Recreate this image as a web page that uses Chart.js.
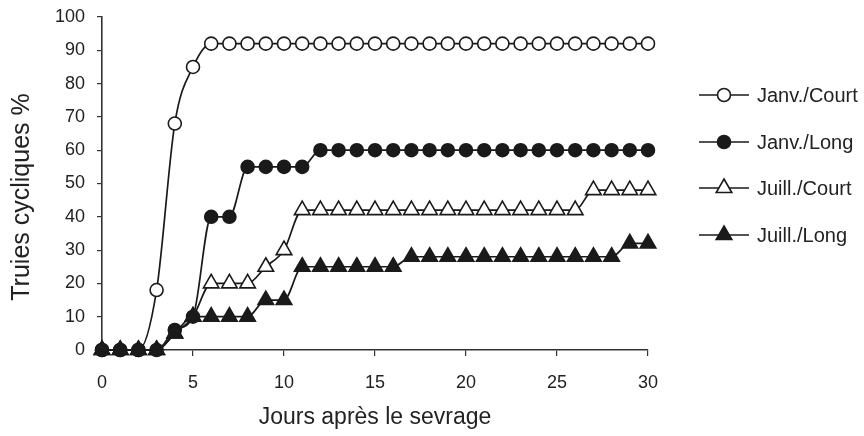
<!DOCTYPE html>
<html>
<head>
<meta charset="utf-8">
<script src="https://cdn.jsdelivr.net/npm/chart.js@4.4.1/dist/chart.umd.min.js"></script>
<style>
  html, body { margin: 0; padding: 0; background: #fff; }
  #wrap { width: 864px; height: 436px; position: relative; }
</style>
</head>
<body>
<div id="wrap"><canvas id="chart" width="864" height="436"></canvas></div>
<script>
// Truies cycliques (%) selon les jours après le sevrage
const days = [0, 1, 2, 3, 4, 5, 6, 7, 8, 9, 10, 11, 12, 13, 14, 15, 16, 17, 18, 19, 20, 21, 22, 23, 24, 25, 26, 27, 28, 29, 30];
const janvCourt = [0, 0, 0, 18, 68, 85, 92, 92, 92, 92, 92, 92, 92, 92, 92, 92, 92, 92, 92, 92, 92, 92, 92, 92, 92, 92, 92, 92, 92, 92, 92];
const janvLong = [0, 0, 0, 0, 6, 10, 40, 40, 55, 55, 55, 55, 60, 60, 60, 60, 60, 60, 60, 60, 60, 60, 60, 60, 60, 60, 60, 60, 60, 60, 60];
const juillCourt = [0, 0, 0, 0, 5, 10, 20, 20, 20, 25, 30, 42, 42, 42, 42, 42, 42, 42, 42, 42, 42, 42, 42, 42, 42, 42, 42, 48, 48, 48, 48];
const juillLong = [0, 0, 0, 0, 5, 10, 10, 10, 10, 15, 15, 25, 25, 25, 25, 25, 25, 28, 28, 28, 28, 28, 28, 28, 28, 28, 28, 28, 28, 32, 32];
const seriesNames = ['Janv./Court', 'Janv./Long', 'Juill./Court', 'Juill./Long'];
const yTicks = [0, 10, 20, 30, 40, 50, 60, 70, 80, 90, 100];
const xTicks = [0, 5, 10, 15, 20, 25, 30];

const INK = '#1a1a1a';
const TEXT = '#222';
const FONT = "'Liberation Sans', Arial, sans-serif";

function toPoints(vals) {
  return days.map((d, i) => ({ x: d, y: vals[i] }));
}

function makeSet(label, vals, style, filled, order) {
  return {
    label: label,
    data: toPoints(vals),
    borderColor: INK,
    borderWidth: 1.7,
    cubicInterpolationMode: 'monotone',
    pointStyle: style,
    pointRadius: style === 'triangle' ? 9 : 6.5,
    pointBorderWidth: 1.6,
    pointBorderColor: INK,
    pointBackgroundColor: filled ? INK : '#fff',
    fill: false,
    clip: false,
    order: order,
    _filled: filled
  };
}

// drawn in the legend: line + marker + label
const legendPlugin = {
  id: 'sideLegend',
  afterDraw(chart) {
    const ctx = chart.ctx;
    const rows = [95, 142, 188, 235];
    ctx.save();
    chart.data.datasets.forEach((ds, i) => {
      const y = rows[i];
      ctx.strokeStyle = INK;
      ctx.lineWidth = 1.6;
      ctx.beginPath();
      ctx.moveTo(699, y);
      ctx.lineTo(749, y);
      ctx.stroke();
      ctx.fillStyle = ds._filled ? INK : '#fff';
      ctx.beginPath();
      if (ds.pointStyle === 'circle') {
        ctx.arc(724, y, ds.pointRadius, 0, Math.PI * 2);
      } else {
        const r = ds.pointRadius;
        let a = 0;
        for (let k = 0; k < 3; k++) {
          const px = 724 + Math.sin(a) * r;
          const py = y - Math.cos(a) * r;
          if (k === 0) ctx.moveTo(px, py); else ctx.lineTo(px, py);
          a += Math.PI * 2 / 3;
        }
        ctx.closePath();
      }
      ctx.fill();
      ctx.stroke();
      ctx.fillStyle = TEXT;
      ctx.font = '20px ' + FONT;
      ctx.textAlign = 'left';
      ctx.textBaseline = 'middle';
      ctx.fillText(ds.label, 757, y + 1);
    });
    ctx.restore();
  }
};

// y title sits a bit below the axis centre in the original
const yTitlePlugin = {
  id: 'yTitle',
  afterDraw(chart) {
    const ctx = chart.ctx;
    ctx.save();
    ctx.translate(22, 197);
    ctx.rotate(-Math.PI / 2);
    ctx.fillStyle = TEXT;
    ctx.font = '25px ' + FONT;
    ctx.textAlign = 'center';
    ctx.textBaseline = 'middle';
    ctx.fillText('Truies cycliques %', 0, 0);
    ctx.restore();
  }
};

new Chart(document.getElementById('chart'), {
  type: 'line',
  data: {
    datasets: [
      makeSet(seriesNames[0], janvCourt, 'circle', false, 2),
      makeSet(seriesNames[1], janvLong, 'circle', true, 0),
      makeSet(seriesNames[2], juillCourt, 'triangle', false, 3),
      makeSet(seriesNames[3], juillLong, 'triangle', true, 1)
    ]
  },
  options: {
    responsive: false,
    animation: false,
    devicePixelRatio: 1,
    layout: { padding: { top: 17, right: 216, left: 0, bottom: 0 } },
    plugins: {
      legend: { display: false },
      tooltip: { enabled: false }
    },
    scales: {
      x: {
        type: 'linear',
        min: 0,
        max: 30,
        afterFit(s) { s.height = 86; s.paddingLeft = 0; s.paddingRight = 0; },
        afterBuildTicks(s) { s.ticks = xTicks.map(v => ({ value: v })); },
        grid: { drawOnChartArea: false, tickLength: 6, color: '#333', lineWidth: 1.2 },
        border: { color: '#333', width: 1.6 },
        ticks: { color: TEXT, font: { family: FONT, size: 18 }, padding: 16, maxRotation: 0 },
        title: {
          display: true,
          text: 'Jours après le sevrage',
          color: TEXT,
          font: { family: FONT, size: 23 },
          padding: { top: 0, bottom: 5 }
        }
      },
      y: {
        min: 0,
        max: 100,
        afterFit(s) { s.width = 102; s.paddingTop = 0; s.paddingBottom = 0; },
        afterBuildTicks(s) { s.ticks = yTicks.map(v => ({ value: v })); },
        grid: { drawOnChartArea: false, tickLength: 5, color: '#333', lineWidth: 1.2 },
        border: { color: '#333', width: 1.6 },
        ticks: { color: TEXT, font: { family: FONT, size: 18 }, padding: 12 }
      }
    }
  },
  plugins: [legendPlugin, yTitlePlugin]
});
</script>
</body>
</html>
